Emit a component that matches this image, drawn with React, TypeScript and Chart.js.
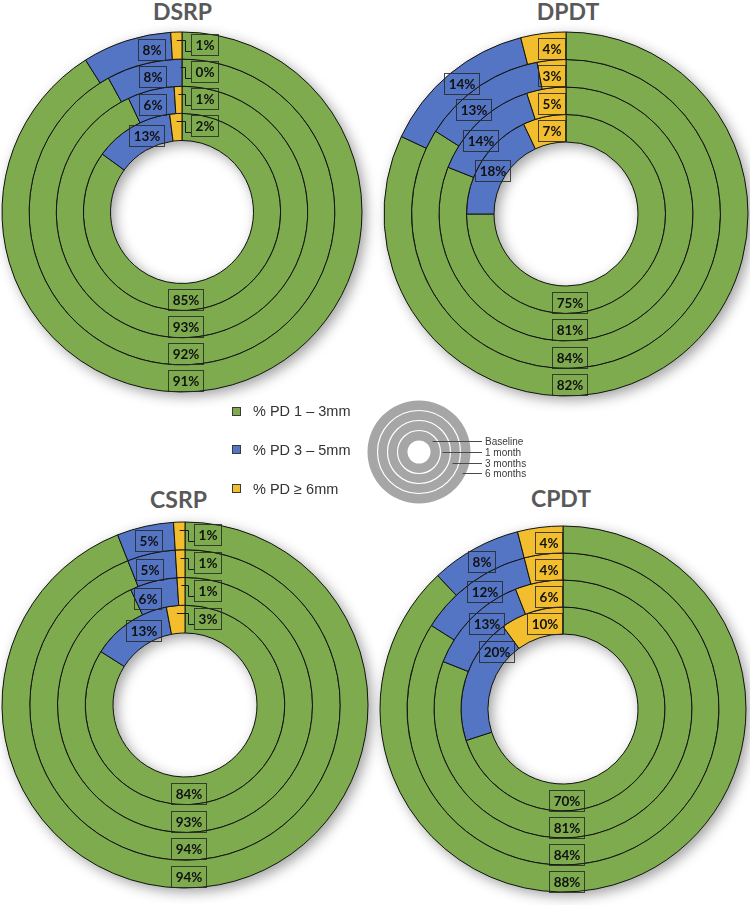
import React, { useEffect, useRef } from 'react';
import { Chart, registerables } from 'chart.js';

Chart.register(...registerables);

// ---------- DATA ----------
const TIMEPOINTS = ['Baseline', '1 month', '3 months', '6 months'];
const CATEGORIES = ['% PD 1 – 3mm', '% PD 3 – 5mm', '% PD ≥ 6mm'];

// values per timepoint: [Baseline, 1 month, 3 months, 6 months]
const DSRP_GREEN = [85, 93, 92, 91];
const DSRP_BLUE = [13, 6, 8, 8];
const DSRP_YELLOW = [2, 1, 0, 1];

const DPDT_GREEN = [75, 81, 84, 82];
const DPDT_BLUE = [18, 14, 13, 14];
const DPDT_YELLOW = [7, 5, 3, 4];

const CSRP_GREEN = [84, 93, 94, 94];
const CSRP_BLUE = [13, 6, 5, 5];
const CSRP_YELLOW = [3, 1, 1, 1];

const CPDT_GREEN = [70, 81, 84, 88];
const CPDT_BLUE = [20, 13, 12, 8];
const CPDT_YELLOW = [10, 6, 4, 4];

// ---------- STYLE / LAYOUT ----------
const COLORS = ['#7EAB4E', '#5474C4', '#F3BE2D'];
const LABEL_FONT = 'bold 13.5px Lato, "DejaVu Sans", sans-serif';

type Panel = {
  title: string;
  green: number[];
  blue: number[];
  yellow: number[];
  cx: number;
  cy: number;
  R: number;
  hole: number;
  titleX: number;
  titleBase: number;
  blueLabelNudgeDeg: number[]; // label placement tweak per timepoint (degrees clockwise)
};

const PANELS: Panel[] = [
  { title: 'DSRP', green: DSRP_GREEN, blue: DSRP_BLUE, yellow: DSRP_YELLOW, cx: 181.5, cy: 211.5, R: 180, hole: 71.5, titleX: 182.5, titleBase: 20, blueLabelNudgeDeg: [6, -1, 2, 7.5] },
  { title: 'DPDT', green: DPDT_GREEN, blue: DPDT_BLUE, yellow: DPDT_YELLOW, cx: 566, cy: 214, R: 182, hole: 72, titleX: 568, titleBase: 20, blueLabelNudgeDeg: [-1, -5.5, -7, 1] },
  { title: 'CSRP', green: CSRP_GREEN, blue: CSRP_BLUE, yellow: CSRP_YELLOW, cx: 185, cy: 705, R: 183, hole: 72, titleX: 178.5, titleBase: 508, blueLabelNudgeDeg: [5.5, -5, -2, 0] },
  { title: 'CPDT', green: CPDT_GREEN, blue: CPDT_BLUE, yellow: CPDT_YELLOW, cx: 563, cy: 708.5, R: 183, hole: 75, titleX: 561, titleBase: 507, blueLabelNudgeDeg: [23.5, 3.5, 2.5, 0] },
];

function drawBox(ctx: CanvasRenderingContext2D, text: string, x: number, y: number, align: 'center' | 'left' | 'right') {
  ctx.font = LABEL_FONT;
  const tw = ctx.measureText(text).width;
  const w = Math.round(tw + 8);
  const h = 21;
  let left = x - w / 2;
  if (align === 'left') left = x;
  if (align === 'right') left = x - w;
  left = Math.round(left);
  const top = Math.round(y - h / 2);
  ctx.strokeStyle = 'rgba(40,40,40,0.85)';
  ctx.lineWidth = 1;
  ctx.strokeRect(left + 0.5, top + 0.5, w, h);
  ctx.fillStyle = '#111';
  ctx.textAlign = 'center';
  ctx.textBaseline = 'middle';
  ctx.fillText(text, left + w / 2 + 0.5, top + h / 2 + 1.5);
}

const shadowPlugin = {
  id: 'ringShadow',
  beforeDatasetsDraw(chart: any) {
    const n = chart.data.datasets.length;
    const outer: any = chart.getDatasetMeta(0).data[0];
    const inner: any = chart.getDatasetMeta(n - 1).data[0];
    if (!outer || !inner) return;
    const ctx = chart.ctx as CanvasRenderingContext2D;
    ctx.save();
    ctx.beginPath();
    ctx.arc(outer.x, outer.y, outer.outerRadius, 0, Math.PI * 2);
    ctx.arc(outer.x, outer.y, inner.innerRadius, 0, Math.PI * 2, true);
    ctx.closePath();
    ctx.shadowColor = 'rgba(0,0,0,0.38)';
    ctx.shadowBlur = 13;
    ctx.shadowOffsetX = 4;
    ctx.shadowOffsetY = 4;
    ctx.fillStyle = COLORS[0];
    ctx.fill();
    ctx.restore();
  },
};

function makeLabelPlugin(yellowOutside: boolean, nudge: number[]) {
  return {
    id: 'ringLabels',
    afterDatasetsDraw(chart: any) {
      const ctx = chart.ctx as CanvasRenderingContext2D;
      const n = chart.data.datasets.length;
      ctx.save();
      for (let d = 0; d < n; d++) {
        const t = n - 1 - d; // timepoint index
        const meta = chart.getDatasetMeta(d);
        const ds = chart.data.datasets[d];
        const [g, b, y]: any[] = meta.data;
        const r = (g.innerRadius + g.outerRadius) / 2;
        const cx = g.x;
        const cy = g.y;
        // green label: bottom of ring
        drawBox(ctx, ds.data[0] + '%', cx + 3, cy + r + 2.5, 'center');
        // blue label: middle of blue arc
        const mid = (b.startAngle + b.endAngle) / 2 + ((nudge[t] || 0) * Math.PI) / 180;
        drawBox(ctx, ds.data[1] + '%', cx + r * Math.cos(mid), cy + r * Math.sin(mid) + 1, 'center');
        // yellow label
        if (yellowOutside) {
          const ty = cy - r - 1;
          const ym = (y.startAngle + y.endAngle) / 2;
          const sx = Math.min(cx - 1.5, cx + r * Math.cos(ym));
          ctx.strokeStyle = '#1a1a1a';
          ctx.lineWidth = 1;
          ctx.beginPath();
          ctx.moveTo(sx, Math.round(ty - 5) + 0.5);
          ctx.lineTo(cx + 3.5, Math.round(ty - 5) + 0.5);
          ctx.lineTo(cx + 3.5, Math.round(ty + 6) + 0.5);
          ctx.lineTo(cx + 9, Math.round(ty + 6) + 0.5);
          ctx.stroke();
          drawBox(ctx, ds.data[2] + '%', cx + 9, ty, 'left');
        } else {
          drawBox(ctx, ds.data[2] + '%', cx - 1, cy - r + 2.5, 'right');
        }
      }
      ctx.restore();
    },
  };
}

function Donut({ panel }: { panel: Panel }) {
  const ref = useRef<HTMLCanvasElement | null>(null);
  const S = Math.ceil(2 * (panel.R + 16));
  useEffect(() => {
    if (!ref.current) return;
    const datasets = [3, 2, 1, 0].map((t) => ({
      label: TIMEPOINTS[t],
      data: [panel.green[t], panel.blue[t], panel.yellow[t]],
      backgroundColor: COLORS,
      borderColor: '#141414',
      borderWidth: 1,
    }));
    const yellowOutside = Math.max(...panel.yellow) <= 3;
    const chart = new Chart(ref.current, {
      type: 'doughnut',
      data: { labels: CATEGORIES, datasets },
      options: {
        responsive: false,
        animation: false,
        radius: panel.R,
        cutout: (panel.hole / panel.R) * 100 + '%',
        layout: { padding: 0 },
        plugins: { legend: { display: false }, tooltip: { enabled: false } },
      } as any,
      plugins: [shadowPlugin, makeLabelPlugin(yellowOutside, panel.blueLabelNudgeDeg)],
    });
    return () => chart.destroy();
  }, [panel]);
  return (
    <canvas
      ref={ref}
      width={S}
      height={S}
      style={{ position: 'absolute', left: panel.cx - S / 2, top: panel.cy - S / 2, width: S, height: S }}
    />
  );
}

const LEG_CX = 419;
const LEG_CY = 452;

function LegendDonut() {
  const ref = useRef<HTMLCanvasElement | null>(null);
  useEffect(() => {
    if (!ref.current) return;
    const datasets = [3, 2, 1, 0].map((t) => ({
      label: TIMEPOINTS[t],
      data: [1],
      backgroundColor: '#A6A6A6',
      borderWidth: 0,
    }));
    const guide = {
      id: 'ringGuide',
      afterDatasetsDraw(chart: any) {
        const ctx = chart.ctx as CanvasRenderingContext2D;
        const n = chart.data.datasets.length;
        ctx.save();
        ctx.strokeStyle = '#ffffff';
        ctx.lineWidth = 1.2;
        for (let d = 1; d < n; d++) {
          const a: any = chart.getDatasetMeta(d).data[0];
          ctx.beginPath();
          ctx.arc(a.x, a.y, a.outerRadius, 0, Math.PI * 2);
          ctx.stroke();
        }
        ctx.font = '10px "Liberation Sans", Arial, sans-serif';
        ctx.textAlign = 'left';
        ctx.textBaseline = 'middle';
        for (let d = 0; d < n; d++) {
          const a: any = chart.getDatasetMeta(d).data[0];
          const t = n - 1 - d;
          const ly = Math.round(a.y - 11 + 10.8 * t) + 0.5;
          ctx.strokeStyle = '#4a4a4a';
          ctx.lineWidth = 1;
          ctx.beginPath();
          ctx.moveTo(a.x + a.innerRadius + 2, ly);
          ctx.lineTo(a.x + 63, ly);
          ctx.stroke();
          ctx.fillStyle = '#3a3a3a';
          ctx.fillText(TIMEPOINTS[t], a.x + 66, ly + 0.5);
        }
        ctx.restore();
      },
    };
    const chart = new Chart(ref.current, {
      type: 'doughnut',
      data: { labels: ['ring'], datasets },
      options: {
        responsive: false,
        animation: false,
        radius: 51.5,
        cutout: (11.5 / 51.5) * 100 + '%',
        layout: { padding: { right: 80 } },
        plugins: { legend: { display: false }, tooltip: { enabled: false } },
      } as any,
      plugins: [guide],
    });
    return () => chart.destroy();
  }, []);
  return (
    <canvas
      ref={ref}
      width={200}
      height={120}
      style={{ position: 'absolute', left: LEG_CX - 60, top: LEG_CY - 60, width: 200, height: 120 }}
    />
  );
}

const LEGEND_Y = [411, 449.5, 488.5];

export default function App() {
  return (
    <div style={{ position: 'absolute', left: 0, top: 0, width: 750, height: 905, background: '#fff', overflow: 'hidden' }}>
      {PANELS.map((p) => (
        <div
          key={p.title + '-t'}
          style={{
            position: 'absolute',
            left: p.titleX - 100,
            top: p.titleBase - 20.4,
            width: 200,
            textAlign: 'center',
            font: 'bold 23px Lato, "DejaVu Sans", sans-serif',
            lineHeight: '23px',
            color: '#595959',
          }}
        >
          {p.title}
        </div>
      ))}
      {PANELS.map((p) => (
        <Donut key={p.title} panel={p} />
      ))}
      {CATEGORIES.map((c, i) => (
        <React.Fragment key={c}>
          <div
            style={{
              position: 'absolute',
              left: 232,
              top: LEGEND_Y[i] - 4.5,
              width: 7,
              height: 7,
              background: COLORS[i],
              border: '1px solid #3a3a3a',
            }}
          />
          <div
            style={{
              position: 'absolute',
              left: 253,
              top: LEGEND_Y[i] - 8,
              font: '14.5px "Liberation Sans", Arial, sans-serif',
              lineHeight: '16px',
              color: '#333',
              whiteSpace: 'nowrap',
            }}
          >
            {c}
          </div>
        </React.Fragment>
      ))}
      <LegendDonut />
    </div>
  );
}
